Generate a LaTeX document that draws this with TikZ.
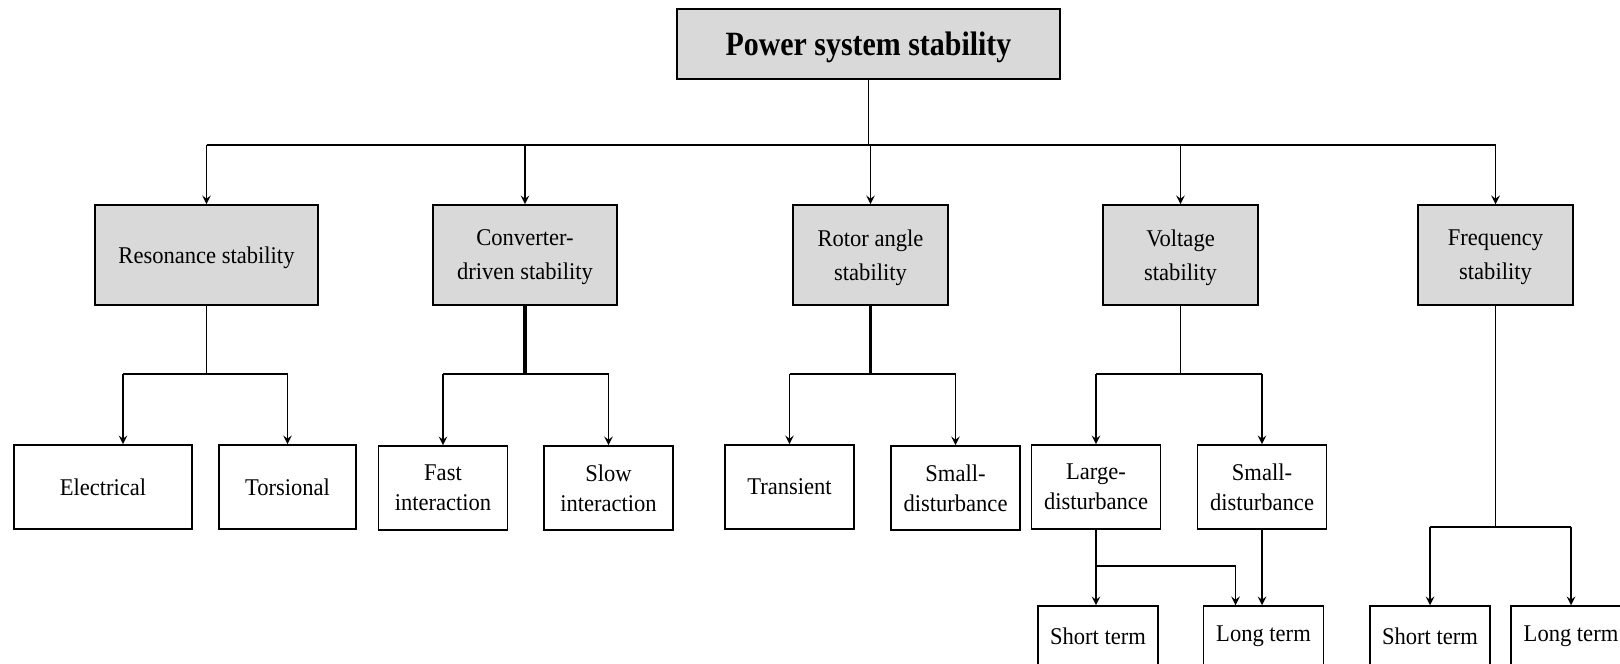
\documentclass[tikz,border=0pt]{standalone}
\usepackage{fontspec}
\setmainfont{Liberation Serif}[FakeStretch=0.94]
\newfontfamily\titlefont{Liberation Serif}[FakeStretch=0.88]
\definecolor{boxgray}{RGB}{217,217,217}

\begin{document}
\begin{tikzpicture}
[x=0.5pt,y=-0.5pt,line width=0.9pt,>=stealth,%
  every node/.style={draw,line width=0.8pt,align=center,inner sep=0pt},%
  cat/.style={fill=boxgray,minimum width=77.5pt,minimum height=50pt,text depth=0pt,font=\fontsize{12}{17}\selectfont},%
  leaf/.style={minimum width=64.5pt,minimum height=42pt,font=\fontsize{12}{15}\selectfont},%
  term/.style={minimum width=60pt,minimum height=30pt,font=\fontsize{12}{15}\selectfont}]
\useasboundingbox (0,0) rectangle (1620,663);
\node[fill=boxgray,minimum width=191.5pt,minimum height=35pt,line width=1pt,text depth=0pt,
  font=\titlefont\bfseries\fontsize{17}{20}\selectfont] (pss) at (868.5,44) {Power system stability};

\node[cat,minimum width=111.5pt] (res) at (206.5,255) {Resonance stability};
\node[cat,minimum width=92pt] (conv) at (525,255) {Converter-\\driven stability};
\node[cat] (rot) at (870.5,255) {Rotor angle\\stability};
\node[cat] (volt) at (1180.5,255) {Voltage\\stability};
\node[cat] (freq) at (1495.5,255) {Frequency\\stability};

\node[leaf,minimum width=89pt] (elec) at (103,487) {Electrical};
\node[leaf,minimum width=68.5pt] (tors) at (287.5,487) {Torsional};
\node[leaf] (fast) at (443,488) {Fast\\interaction};
\node[leaf] (slow) at (608.5,488) {Slow\\interaction};
\node[leaf] (trans) at (789.5,487) {Transient};
\node[leaf] (rsmall) at (955.5,488) {Small-\\disturbance};
\node[leaf] (large) at (1096,487) {Large-\\disturbance};
\node[leaf] (vsmall) at (1262,487) {Small-\\disturbance};

\node[term] (vshort) at (1098,636) {Short term};
\node[term] (vlong) at (1263.5,636) {Long term};
\node[term] (fshort) at (1430,636) {Short term};
\node[term] (flong) at (1571,636) {Long term};

\coordinate (bus) at (868.5,145);
\coordinate (lvl) at (0,374);
\coordinate (flvl) at (0,527);
\coordinate (vlvl) at (0,566);

\draw (pss) -- (bus);
\draw (bus -| res) -- (bus -| freq);
\foreach \n in {res,conv,rot,volt,freq}
  \draw[->] (bus -| \n) -- (\n);

\draw (res) -- (res |- lvl);
\draw[line width=1.6pt] (conv) -- (conv |- lvl);
\draw[line width=1.6pt] (rot) -- (rot |- lvl);
\draw (volt) -- (volt |- lvl);
\draw ([xshift=10pt]elec.north |- lvl) -- (tors |- lvl);
\draw[->] ([xshift=10pt]elec.north |- lvl) -- ([xshift=10pt]elec.north);
\draw[->] (tors |- lvl) -- (tors);
\foreach \a/\b in {fast/slow,trans/rsmall,large/vsmall}{
  \draw (\a |- lvl) -- (\b |- lvl);
  \draw[->] (\a |- lvl) -- (\a);
  \draw[->] (\b |- lvl) -- (\b);
}

\draw (freq) -- (freq |- flvl);
\draw (fshort |- flvl) -- (flong |- flvl);
\draw[->] (fshort |- flvl) -- (fshort);
\draw[->] (flong |- flvl) -- (flong);

\draw[->] (large.south) -- (large.south |- vshort.north);
\draw[->] (large.south |- vlvl) -| ([xshift=-14pt]vlong.north);
\draw[->] (vsmall.south) -- (vsmall.south |- vlong.north);
\end{tikzpicture}
\end{document}
